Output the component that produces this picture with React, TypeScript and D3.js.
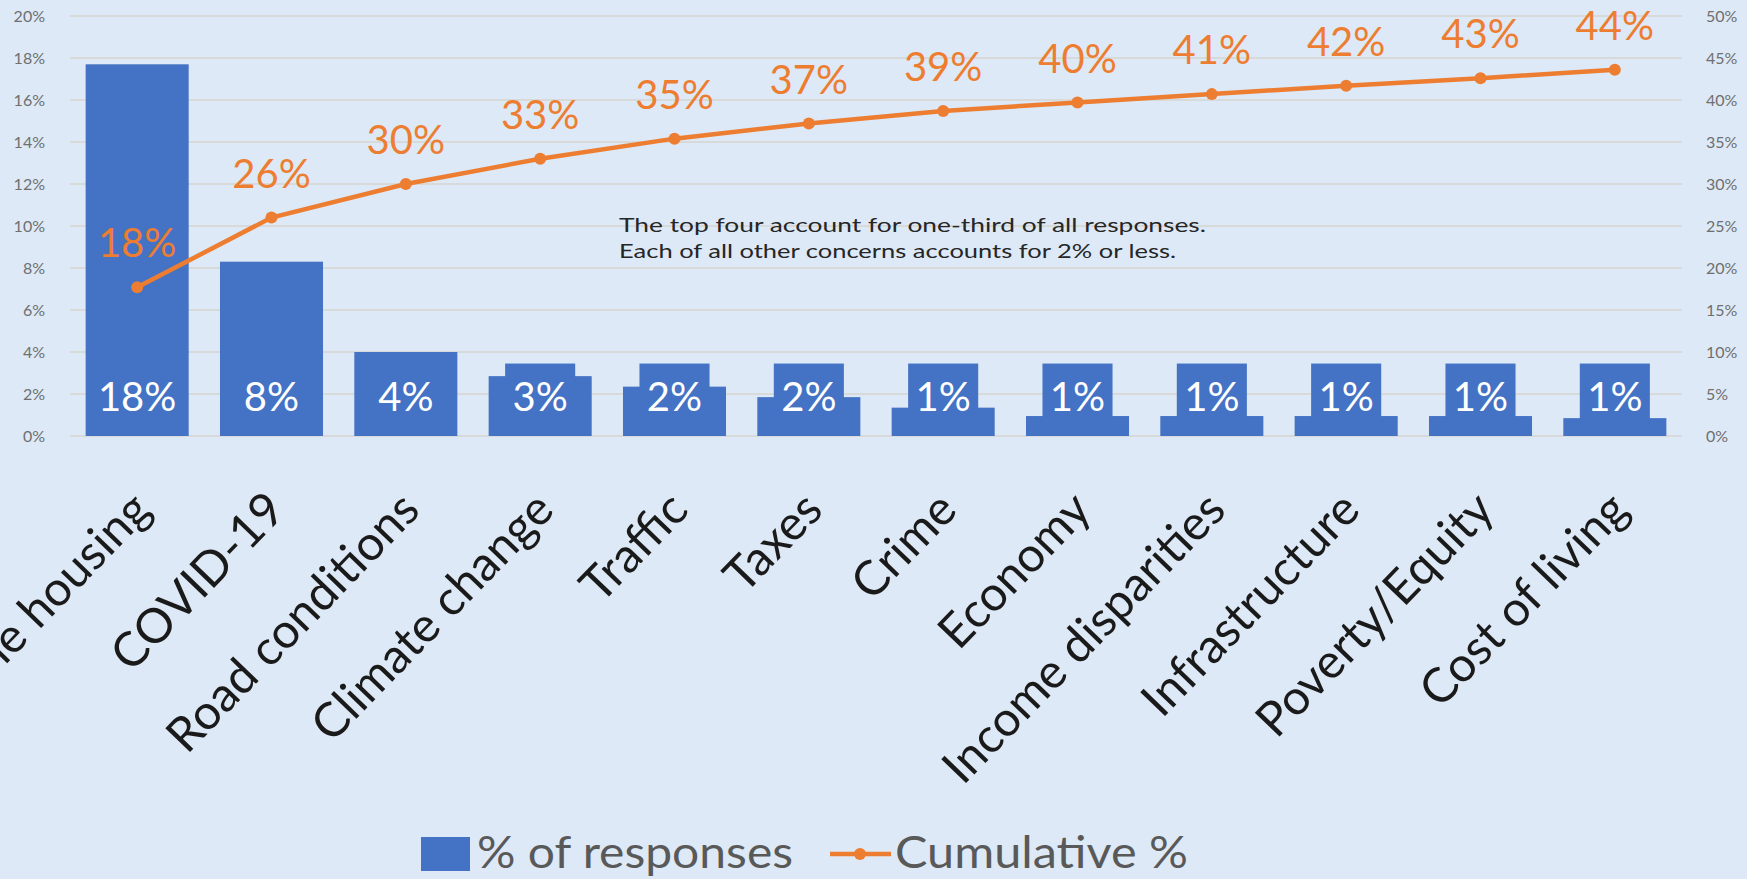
import React from "react";
import * as d3 from "d3";

const categories = [
  "Affordable housing",
  "COVID-19",
  "Road conditions",
  "Climate change",
  "Traffic",
  "Taxes",
  "Crime",
  "Economy",
  "Income disparities",
  "Infrastructure",
  "Poverty/Equity",
  "Cost of living",
];
const responses = [17.7, 8.3, 4.0, 2.85, 2.35, 1.85, 1.35, 0.95, 0.95, 0.95, 0.95, 0.85];
const cumulative = [17.7, 26.0, 30.0, 33.0, 35.4, 37.2, 38.7, 39.7, 40.7, 41.7, 42.6, 43.6];
const leftTicks = [0, 2, 4, 6, 8, 10, 12, 14, 16, 18, 20];
const rightTicks = [0, 5, 10, 15, 20, 25, 30, 35, 40, 45, 50];
const noteLines = [
  "The top four account for one-third of all responses.",
  "Each of all other concerns accounts for 2% or less.",
];
const legendLabels = ["% of responses", "Cumulative %"];

const W = 1747;
const H = 879;
const BG = "#dde9f6";
const BLUE = "#4472c4";
const ORANGE = "#ed7d31";
const GRID = "#d6d4cf";
const FONT = "Lato, 'Open Sans', sans-serif";

export default function App() {
  const plot = { left: 70, right: 1682, top: 16, bottom: 436 };
  const x = d3
    .scaleBand<string>()
    .domain(categories)
    .range([plot.left, plot.right])
    .paddingInner(0.233)
    .paddingOuter(0.1165);
  const yL = d3.scaleLinear().domain([0, 20]).range([plot.bottom, plot.top]);
  const yR = d3.scaleLinear().domain([0, 50]).range([plot.bottom, plot.top]);
  const bw = x.bandwidth();
  const cx = (c: string) => (x(c) as number) + bw / 2;
  const line = d3
    .line<number>()
    .x((_, i) => cx(categories[i]))
    .y((d) => yR(d));

  const boxW = bw * 0.68;
  const boxTop = yL(3.45);
  const boxBottom = yL(0.2);

  return (
    <svg
      width={W}
      height={H}
      style={{ position: "fixed", left: 0, top: 0, display: "block" }}
      fontFamily={FONT}
    >
      <rect x={0} y={0} width={W} height={H} fill={BG} />
      {/* gridlines */}
      {leftTicks.map((t) => (
        <line
          key={"g" + t}
          x1={plot.left}
          x2={plot.right}
          y1={yL(t)}
          y2={yL(t)}
          stroke={GRID}
          strokeWidth={1.5}
        />
      ))}
      {/* left axis labels */}
      {leftTicks.map((t) => (
        <text
          key={"l" + t}
          x={45}
          y={yL(t)}
          dy="0.35em"
          textAnchor="end"
          fontSize={16}
          fill="#6f6f6f"
        >
          {t + "%"}
        </text>
      ))}
      {/* right axis labels */}
      {rightTicks.map((t) => (
        <text
          key={"r" + t}
          x={1706}
          y={yR(t)}
          dy="0.35em"
          textAnchor="start"
          fontSize={16}
          fill="#6f6f6f"
        >
          {t + "%"}
        </text>
      ))}
      {/* bars */}
      {responses.map((v, i) => (
        <rect
          key={"b" + i}
          x={x(categories[i])}
          y={yL(v)}
          width={bw}
          height={yL(0) - yL(v)}
          fill={BLUE}
        />
      ))}
      {/* bar label boxes */}
      {responses.map((v, i) => (
        <rect
          key={"bb" + i}
          x={cx(categories[i]) - boxW / 2}
          y={boxTop}
          width={boxW}
          height={boxBottom - boxTop}
          fill={BLUE}
        />
      ))}
      {responses.map((v, i) => (
        <text
          key={"bl" + i}
          x={cx(categories[i])}
          y={yL(1)}
          dy="-0.1em"
          textAnchor="middle"
          fontSize={40}
          fill="#ffffff"
        >
          {Math.round(v) + "%"}
        </text>
      ))}
      {/* cumulative line */}
      <path d={line(cumulative) || ""} fill="none" stroke={ORANGE} strokeWidth={4.5} />
      {cumulative.map((v, i) => (
        <circle key={"p" + i} cx={cx(categories[i])} cy={yR(v)} r={6} fill={ORANGE} />
      ))}
      {cumulative.map((v, i) => (
        <text
          key={"cl" + i}
          x={cx(categories[i])}
          y={yR(v) - 30}
          textAnchor="middle"
          fontSize={40}
          fill={ORANGE}
        >
          {Math.round(v) + "%"}
        </text>
      ))}
      {/* annotation */}
      {noteLines.map((t, i) => (
        <text
          key={"n" + i}
          x={619}
          y={232 + i * 26}
          fontSize={20}
          fill="#262626"
          textLength={i === 0 ? 587 : 557}
          lengthAdjust="spacingAndGlyphs"
        >
          {t}
        </text>
      ))}
      {/* category labels */}
      {categories.map((c) => (
        <text
          key={"c" + c}
          transform={`translate(${cx(c) + 16},${512}) rotate(-46)`}
          textAnchor="end"
          fontSize={48}
          fill="#1a1a1a"
        >
          {c}
        </text>
      ))}
      {/* legend */}
      <rect x={421} y={837} width={49} height={34} fill={BLUE} />
      <text
        x={477}
        y={868}
        fontSize={45}
        fill="#595959"
        textLength={316}
        lengthAdjust="spacingAndGlyphs"
      >
        {legendLabels[0]}
      </text>
      <line x1={830} x2={891} y1={854} y2={854} stroke={ORANGE} strokeWidth={4.5} />
      <circle cx={860} cy={854} r={6} fill={ORANGE} />
      <text
        x={895}
        y={868}
        fontSize={45}
        fill="#595959"
        textLength={293}
        lengthAdjust="spacingAndGlyphs"
      >
        {legendLabels[1]}
      </text>
    </svg>
  );
}
